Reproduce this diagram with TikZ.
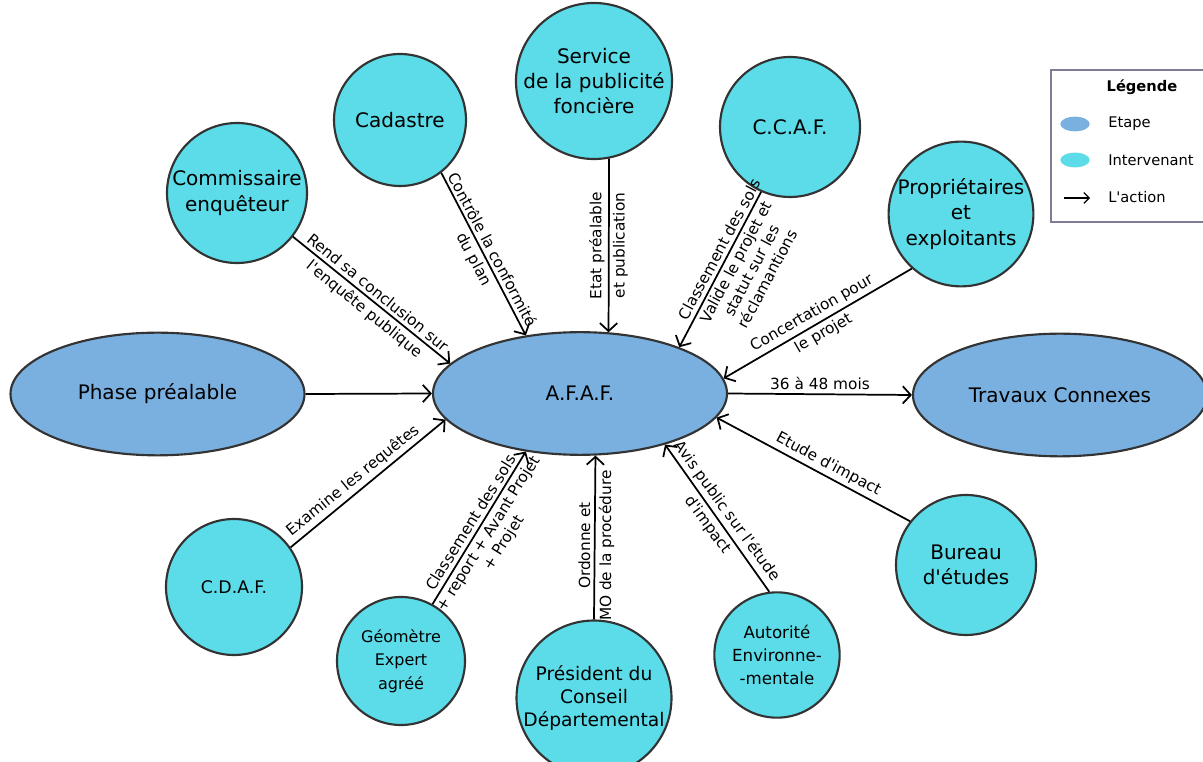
\documentclass[tikz,border=0pt]{standalone}
\usepackage{fontspec}
\setmainfont{DejaVu Sans}[Ligatures=TeXOff]
\usepackage{tikz}
\usetikzlibrary{shapes.geometric,arrows.meta}

\definecolor{etapeblue}{RGB}{122,176,224}
\definecolor{intercyan}{RGB}{91,220,232}
\definecolor{bordgray}{RGB}{51,51,51}
\definecolor{legframe}{RGB}{125,125,150}

\tikzset{
  etape/.style={ellipse, draw=bordgray, line width=1.6pt, fill=etapeblue, minimum width=220.5pt, minimum height=92pt, inner sep=0pt, font=\fontsize{15}{18}\selectfont},
  interv/.style={circle, draw=bordgray, line width=1.6pt, fill=intercyan, inner sep=0pt, align=center, font=\fontsize{15}{19}\selectfont},
  action/.style={line width=1.3pt, -{Straight Barb[length=6pt,width=13pt]}},
  lbl/.style={font=\fontsize{11.5}{13.5}\selectfont, align=center, inner sep=2.5pt},
  legtxt/.style={font=\fontsize{11}{13}\selectfont, anchor=west, inner sep=0pt}
}

\begin{document}
\begin{tikzpicture}[x=0.75pt,y=0.75pt,yscale=-1,xscale=1]

\useasboundingbox (0,0) rectangle (1203,762);

\draw (580,393.5) node [etape] (afaf) {A.F.A.F.};

\draw (157.5,394) node [etape] (phase) {Phase préalable};

\draw (1060,395) node [etape] (travaux) {Travaux Connexes};


\draw (237,193) node [interv, minimum size=105pt] (comm) {Commissaire\\enquêteur};

\draw (400,120) node [interv, minimum size=99pt] (cadastre) {Cadastre};

\draw (594,81) node [interv, minimum size=106.5pt] (service) {Service\\de la publicité\\foncière};

\draw (790,127) node [interv, minimum size=105pt] (ccaf) {C.C.A.F.};

\draw (961,214) node [interv, minimum size=105pt] (prop) {Propriétaires\\et\\exploitants};

\draw (966,565) node [interv, minimum size=105pt] (bureau) {Bureau\\d'études};

\draw (777,655) node [interv, minimum size=94pt, font=\fontsize{12.5}{17.5}\selectfont] (auto) {Autorité\\Environne-\\-mentale};

\draw (594,698) node [interv, minimum size=108pt, font=\fontsize{14}{17}\selectfont] (pres) {Président du\\Conseil\\Départemental};

\draw (401,661) node [interv, minimum size=96pt, font=\fontsize{12}{17.5}\selectfont] (geom) {Géomètre\\Expert\\agréé};

\draw (234,587) node [interv, minimum size=102pt, font=\fontsize{13}{16}\selectfont] (cdaf) {C.D.A.F.};


\draw [action] (phase.east) -- (afaf.west);

\draw [action] (afaf.east) -- (travaux.west) node [lbl, above, pos=0.5] {36 à 48 mois};

\draw [action] (comm.-38) -- (afaf.167) node [lbl, rotate=-39, above, pos=0.5] {Rend sa conclusion sur} node [lbl, rotate=-39, below, pos=0.5] {l'enquête publique};

\draw [action] (cadastre.-52) -- (afaf.133) node [lbl, rotate=-62, above, pos=0.5] {Contrôle la conformité} node [lbl, rotate=-62, below, pos=0.5] {du plan};

\draw [action] (service.-79) -- (afaf.65) node [lbl, rotate=90, above, pos=0.5] {Etat préalable} node [lbl, rotate=90, below, pos=0.5] {et publication};

\draw [action] (ccaf.246) -- (afaf.25) node [lbl, rotate=62, above, pos=0.4] {Classement des sols} node [lbl, rotate=62, below, pos=0.42] {Valide le projet et\\statut sur les\\réclamantions};

\draw [action] (prop.228) -- (afaf.6) node [lbl, rotate=30, above, pos=0.5] {Concertation pour} node [lbl, rotate=30, below, pos=0.5] {le projet};

\draw [action] (bureau.142) -- (afaf.-10) node [lbl, rotate=-28, above, pos=0.45] {Etude d'impact};

\draw [action] (auto.97) -- (afaf.-31) node [lbl, rotate=-54, above, pos=0.5] {Avis public sur l'étude} node [lbl, rotate=-54, below, pos=0.5] {d'impact};

\draw [action] (pres.north) -- (afaf.-76) node [lbl, rotate=90, above, pos=0.45] {Ordonne et} node [lbl, rotate=90, below, pos=0.45] {MO de la procédure};

\draw [action] (geom.61) -- (afaf.-133) node [lbl, rotate=58, above, pos=0.5] {Classement des sols} node [lbl, rotate=58, below, pos=0.5] {+ report + Avant Projet\\+ Projet};

\draw [action] (cdaf.35) -- (afaf.191) node [lbl, rotate=39, above, pos=0.45] {Examine les requêtes};


\draw [draw=legframe, line width=1.8pt, fill=white] (1051,70) rectangle (1215,222);

\draw (1142,87) node [font=\fontsize{11}{13}\selectfont\bfseries] (legtitle) {Légende};

\draw (1075,124) node [ellipse, fill=etapeblue, minimum width=22pt, minimum height=11pt, inner sep=0pt] (legetape) {};

\draw (1075,160) node [ellipse, fill=intercyan, minimum width=22pt, minimum height=11pt, inner sep=0pt] (leginterv) {};

\coordinate (legfrom) at (1064,198);
\coordinate (legto) at (1090,198);
\draw [line width=0.9pt, -{Straight Barb[length=4pt,width=8pt]}] (legfrom) -- (legto);

\draw (1108,124) node [legtxt] (legetapetxt) {Etape};

\draw (1108,160) node [legtxt] (leginterbtxt) {Intervenant};

\draw (1108,197) node [legtxt] (legactiontxt) {L'action};

\end{tikzpicture}
\end{document}
